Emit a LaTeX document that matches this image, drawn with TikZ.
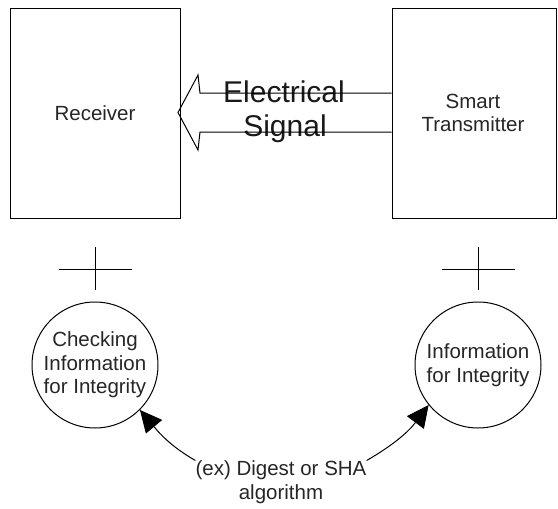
\documentclass[tikz,border=0pt]{standalone}
\usepackage{fontspec}
\setmainfont{Liberation Sans}
\usetikzlibrary{arrows.meta}
\begin{document}
\begin{tikzpicture}[x=1pt,y=1pt,
  line/.style={draw=black,line width=1pt},
  boxnode/.style={line,rectangle,inner sep=0pt},
  lbl/.style={font=\fontsize{20.5}{23.5}\selectfont,align=center,text=black!85,inner sep=1pt},
  biglbl/.style={font=\fontsize{30}{36}\selectfont,text=black!90,inner sep=0pt},
  circ/.style={line,circle,minimum size=126pt,inner sep=0pt,font=\fontsize{20.5}{23.5}\selectfont,align=center,text=black!85},
  arr/.style={line,-{Triangle[length=22pt,width=21pt]}}]
\useasboundingbox (0,0) rectangle (558,-509);
% boxes
\node[boxnode,minimum width=170pt,minimum height=210pt] (rx) at (95,-113) {};
\node[lbl] (rxt) at (95,-113) {Receiver};
\node[boxnode,minimum width=164pt,minimum height=210pt] (tx) at (474,-113) {};
\node[lbl] (txt) at (473,-113) {Smart\\Transmitter};
% big arrow text
\node[biglbl] (el) at (284,-92) {Electrical};
\node[biglbl] (sg) at (285,-129) {Signal};
% big block arrow (open at transmitter side), drawn over the text
\coordinate (a1) at (tx.west |- 0,-93);
\coordinate (a2) at (tx.west |- 0,-132);
\draw[line] (a1) -- (200,-93) -- (198,-75) -- (178,-112.5) -- (198,-150) -- (200,-132) -- (a2);
% crosses
\coordinate (lh1) at (59,-269); \coordinate (lh2) at (132,-269);
\coordinate (lv1) at (95,-247); \coordinate (lv2) at (95,-290);
\draw[line] (lh1) -- (lh2);
\draw[line] (lv1) -- (lv2);
\coordinate (rh1) at (442,-269); \coordinate (rh2) at (515,-269);
\coordinate (rv1) at (478,-247); \coordinate (rv2) at (478,-290);
\draw[line] (rh1) -- (rh2);
\draw[line] (rv1) -- (rv2);
% circles
\node[circ] (lc) at (95,-365) {Checking\\Information\\for Integrity};
\node[circ] (rc) at (478,-365) {Information\\for Integrity};
% bottom text
\node[lbl,inner sep=0pt] (alg) at (281,-482) {(ex) Digest or SHA\\algorithm};
\draw[arr] (alg.north west) to[out=150,in=-50] (lc.-45);
\draw[arr] (alg.north east) to[out=30,in=233] (rc.219);
\end{tikzpicture}
\end{document}
